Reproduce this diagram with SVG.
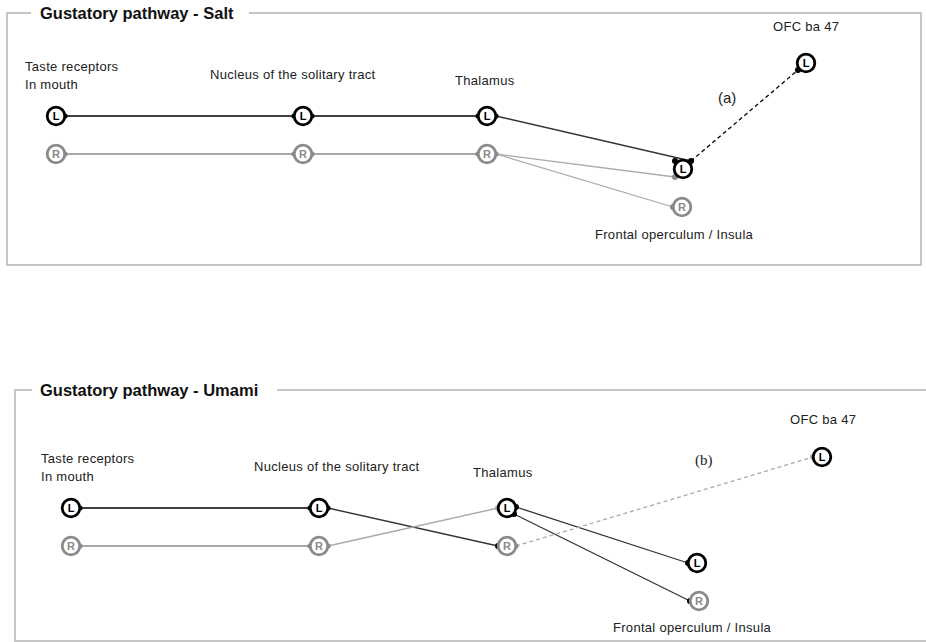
<svg xmlns="http://www.w3.org/2000/svg" width="926" height="642" viewBox="0 0 926 642">
<defs>
<style>
text{font-family:"Liberation Sans",Arial,sans-serif;fill:#222}
.title{font-size:16.5px;font-weight:bold;fill:#111}
.lbl{font-size:13px;letter-spacing:0.3px}
.frame{fill:none;stroke:#c6c6c6;stroke-width:2}
.nl circle{fill:#fff;stroke:#000;stroke-width:2.8}
.nr circle{fill:#fff;stroke:#8a8a8a;stroke-width:2.8}
.nl text{font-size:11px;font-weight:bold;fill:#000;text-anchor:middle}
.nr text{font-size:11px;font-weight:bold;fill:#8a8a8a;text-anchor:middle}
.cb{stroke:#000;stroke-width:1.3;fill:none}
.cd{stroke:#333;stroke-width:1.3;fill:none}
.cg{stroke:#8a8a8a;stroke-width:1.3;fill:none}
.cl{stroke:#aaa;stroke-width:1.3;fill:none}
.dash{stroke-dasharray:4 3}
.db{fill:#000}
.dg{fill:#8a8a8a}
.dl{fill:#aaa}
</style>
</defs>
<rect width="926" height="642" fill="#fff"/>
<g id="frame-salt">
<path class="frame" d="M31,13 H7 V265 H921 V13 H249"/>
<text class="title" x="40" y="19">Gustatory pathway - Salt</text>
</g>
<g id="frame-umami">
<path class="frame" d="M32,390 H15 V641 H926 M926,390 H277"/>
<text class="title" x="40" y="396">Gustatory pathway - Umami</text>
</g>
<g id="connectors">
<line class="cb" x1="65" y1="116" x2="294" y2="116"/>
<line class="cb" x1="312" y1="116" x2="478" y2="116"/>
<line class="cg" x1="65" y1="154" x2="294" y2="154"/>
<line class="cg" x1="312" y1="154" x2="478" y2="154"/>
<line class="cd" x1="496" y1="116" x2="691" y2="161"/>
<line class="cl" x1="496" y1="154" x2="675" y2="177"/>
<line class="cl" x1="496" y1="154" x2="673" y2="207"/>
<line class="cb dash" x1="691" y1="161" x2="798" y2="70"/>
<circle class="db" cx="65" cy="116" r="2.6"/><circle class="db" cx="294" cy="116" r="2.6"/>
<circle class="db" cx="312" cy="116" r="2.6"/><circle class="db" cx="478" cy="116" r="2.6"/>
<circle class="db" cx="496" cy="116" r="2.6"/><circle class="db" cx="691" cy="161" r="3"/>
<circle class="db" cx="675" cy="161" r="3"/><circle class="db" cx="798" cy="70" r="3"/>
<circle class="dg" cx="65" cy="154" r="2.6"/><circle class="dg" cx="294" cy="154" r="2.6"/>
<circle class="dg" cx="312" cy="154" r="2.6"/><circle class="dg" cx="478" cy="154" r="2.6"/>
<circle class="dg" cx="496" cy="154" r="2.6"/><circle class="dg" cx="675" cy="177" r="3"/>
<circle class="dg" cx="673" cy="207" r="3"/>
<line class="cb" x1="80" y1="508" x2="310" y2="508"/>
<line class="cg" x1="80" y1="546" x2="310" y2="546"/>
<line class="cd" x1="328" y1="508" x2="498" y2="546"/>
<line class="cl" x1="328" y1="546" x2="498" y2="508"/>
<line class="cd" x1="516" y1="507" x2="688" y2="563"/>
<line class="cd" x1="514" y1="514" x2="690" y2="601"/>
<line class="cl dash" x1="516" y1="546" x2="813" y2="457"/>
<circle class="db" cx="80" cy="508" r="2.6"/><circle class="db" cx="310" cy="508" r="2.6"/>
<circle class="db" cx="328" cy="508" r="2.6"/><circle class="db" cx="498" cy="546" r="3"/>
<circle class="db" cx="516" cy="507" r="3"/><circle class="db" cx="514" cy="514" r="3"/>
<circle class="db" cx="688" cy="563" r="3"/><circle class="db" cx="690" cy="601" r="3"/>
<circle class="dg" cx="80" cy="546" r="2.6"/><circle class="dg" cx="310" cy="546" r="2.6"/>
<circle class="dg" cx="328" cy="546" r="2.6"/><circle class="dl" cx="498" cy="508" r="3"/>
<circle class="dg" cx="516" cy="546" r="2.6"/><circle class="dl" cx="813" cy="457" r="3"/>
</g>
<g id="salt-taste">
<text class="lbl" x="25" y="71">Taste receptors</text>
<text class="lbl" x="25" y="89">In mouth</text>
<g class="nl"><circle cx="56" cy="116" r="8.8"/><text x="56" y="120">L</text></g>
<g class="nr"><circle cx="56" cy="154" r="8.8"/><text x="56" y="158">R</text></g>
</g>
<g id="salt-nts">
<text class="lbl" x="210" y="79">Nucleus of the solitary tract</text>
<g class="nl"><circle cx="303" cy="116" r="8.8"/><text x="303" y="120">L</text></g>
<g class="nr"><circle cx="303" cy="154" r="8.8"/><text x="303" y="158">R</text></g>
</g>
<g id="salt-thalamus">
<text class="lbl" x="455" y="85">Thalamus</text>
<g class="nl"><circle cx="487" cy="116" r="8.8"/><text x="487" y="120">L</text></g>
<g class="nr"><circle cx="487" cy="154" r="8.8"/><text x="487" y="158">R</text></g>
</g>
<g id="salt-fo">
<text class="lbl" x="595" y="239">Frontal operculum / Insula</text>
<g class="nl"><circle cx="683" cy="169" r="8.8"/><text x="683" y="173">L</text></g>
<g class="nr"><circle cx="682" cy="207" r="8.8"/><text x="682" y="211">R</text></g>
</g>
<g id="salt-ofc">
<text class="lbl" x="773" y="31">OFC ba 47</text>
<g class="nl"><circle cx="806" cy="63" r="8.8"/><text x="806" y="67">L</text></g>
</g>
<text x="718" y="103" style="font-size:15px">(a)</text>
<g id="umami-taste">
<text class="lbl" x="41" y="463">Taste receptors</text>
<text class="lbl" x="41" y="481">In mouth</text>
<g class="nl"><circle cx="71" cy="508" r="8.8"/><text x="71" y="512">L</text></g>
<g class="nr"><circle cx="71" cy="546" r="8.8"/><text x="71" y="550">R</text></g>
</g>
<g id="umami-nts">
<text class="lbl" x="254" y="471">Nucleus of the solitary tract</text>
<g class="nl"><circle cx="319" cy="508" r="8.8"/><text x="319" y="512">L</text></g>
<g class="nr"><circle cx="319" cy="546" r="8.8"/><text x="319" y="550">R</text></g>
</g>
<g id="umami-thalamus">
<text class="lbl" x="473" y="477">Thalamus</text>
<g class="nl"><circle cx="507" cy="508" r="8.8"/><text x="507" y="512">L</text></g>
<g class="nr"><circle cx="507" cy="546" r="8.8"/><text x="507" y="550">R</text></g>
</g>
<g id="umami-fo">
<text class="lbl" x="613" y="632">Frontal operculum / Insula</text>
<g class="nl"><circle cx="697" cy="563" r="8.8"/><text x="697" y="567">L</text></g>
<g class="nr"><circle cx="699" cy="601" r="8.8"/><text x="699" y="605">R</text></g>
</g>
<g id="umami-ofc">
<text class="lbl" x="790" y="424">OFC ba 47</text>
<g class="nl"><circle cx="822" cy="457" r="8.8"/><text x="822" y="461">L</text></g>
</g>
<text x="695" y="465" style="font-size:15px;font-family:'Liberation Serif',serif">(b)</text>
</svg>
